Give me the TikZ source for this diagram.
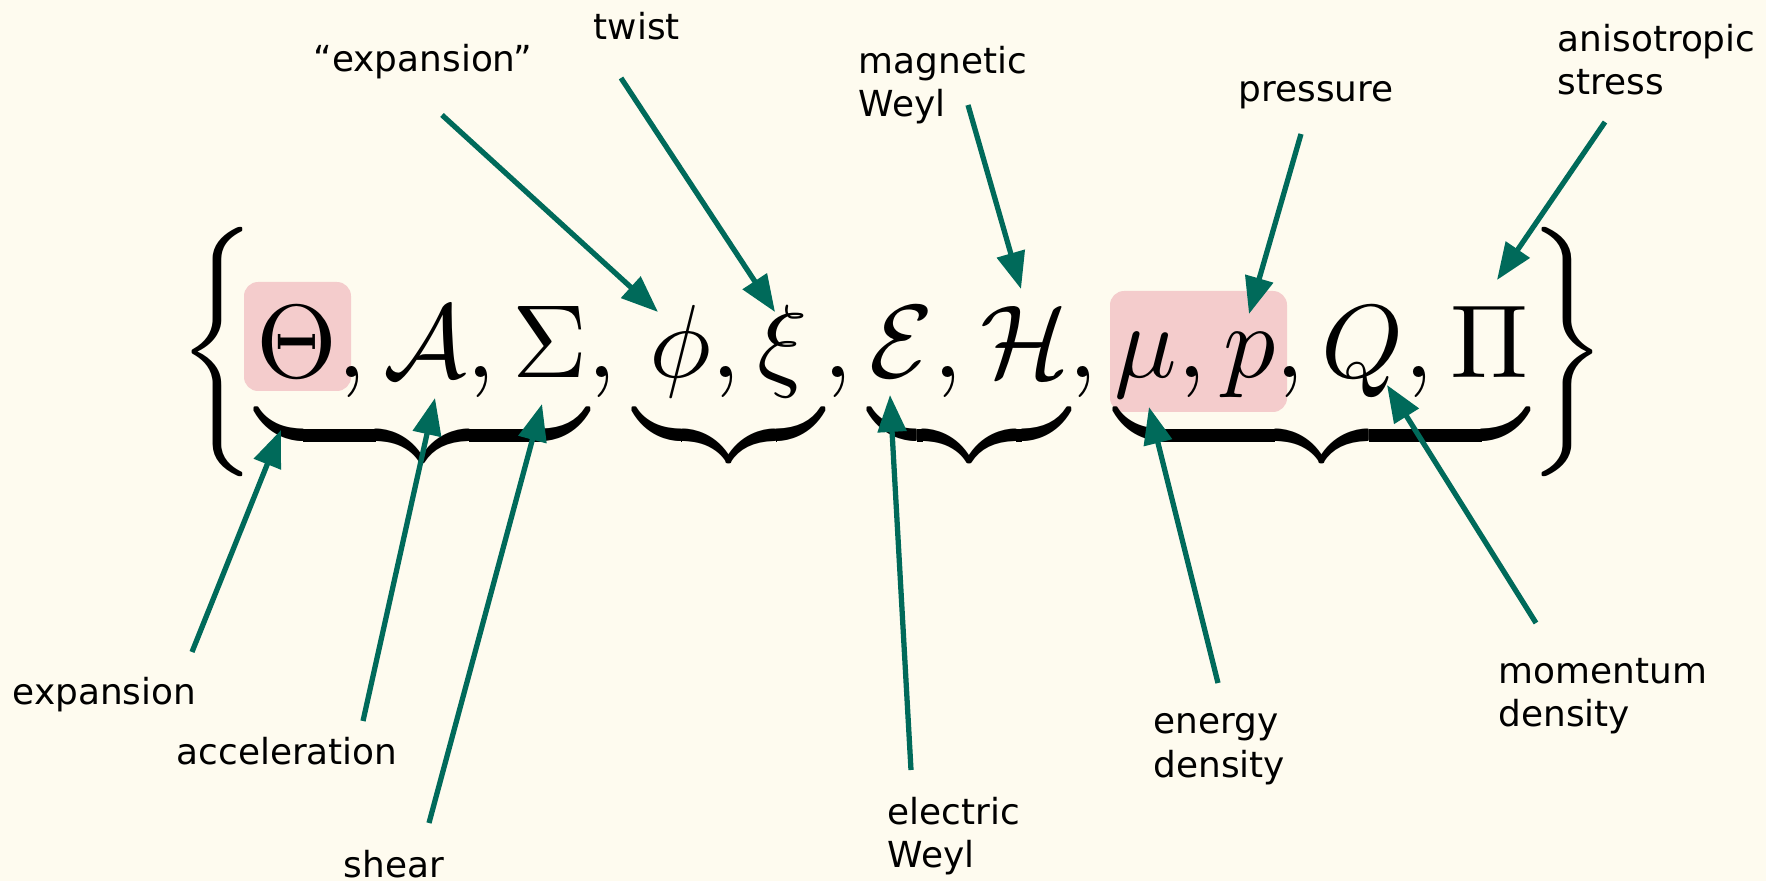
\documentclass[tikz,border=0pt]{standalone}
\usepackage{amsmath}
\usepackage[no-math]{fontspec}
\newfontfamily\lblfont{DejaVu Sans}
\usetikzlibrary{arrows.meta,positioning}
\definecolor{paper}{HTML}{FEFBEF}
\definecolor{arrowteal}{HTML}{006A5A}
\definecolor{hlpink}{HTML}{F4CCCC}

\begin{document}
\begin{tikzpicture}[
lbl/.style={font=\lblfont\fontsize{10.2}{12.5}\selectfont,inner sep=0pt,align=left,anchor=base west},
hl/.style={fill=hlpink,rounded corners=4pt,inner sep=0pt},
arrow/.style={-{Triangle[length=10.5pt,width=8pt]},line width=1.5pt,draw=arrowteal} ]

\fill[paper] (0,0) rectangle (17.66,-8.81);
\useasboundingbox (0,0) rectangle (17.66,-8.81);

\node[hl,minimum width=1.07cm,minimum height=1.09cm](hlTheta) at (2.975,-3.365) {};
\node[hl,minimum width=1.77cm,minimum height=1.21cm](hlMuP) at (11.985,-3.515) {};

\node[inner sep=0pt,anchor=base west](set) at (1.78,-3.78) {\scalebox{2.957}{%
$\displaystyle\biggl\{\underbrace{\Theta,\mathcal{A},\Sigma}_{},\underbrace{\hspace{1.5pt}\phi,\xi\hspace{1.5pt}}_{},\underbrace{\mathcal{E},\mathcal{H}}_{},\underbrace{\mu,p,Q,\Pi}_{}\biggr\}$}};

\node[lbl](expn) at (0.12,-7.05) {expansion};
\node[lbl](accel) at (1.76,-7.65) {acceleration};
\node[lbl](shear) at (3.43,-8.77) {shear};
\node[lbl](elec) at (8.87,-8.68) {electric\\Weyl};
\node[lbl](energy) at (11.53,-7.77) {energy\\density};
\node[lbl](momentum) at (14.98,-7.27) {momentum\\density};
\node[lbl](aniso) at (15.57,-0.95) {anisotropic\\stress};
\node[lbl](press) at (12.38,-1.02) {pressure};
\node[lbl](magn) at (8.58,-1.17) {magnetic\\Weyl};
\node[lbl](twist) at (5.93,-0.40) {twist};
\node[lbl](qexpn) at (3.13,-0.72) {“expansion”};

\coordinate (tExpn) at (1.92,-6.52);
\coordinate (tAccel) at (3.63,-7.21);
\coordinate (tShear) at (4.29,-8.23);
\coordinate (tElec) at (9.11,-7.70);
\coordinate (tEnergy) at (12.18,-6.83);
\coordinate (tMomentum) at (15.36,-6.23);
\coordinate (tAniso) at (16.05,-1.22);
\coordinate (tPress) at (13.01,-1.34);
\coordinate (tMagn) at (9.68,-1.05);
\coordinate (tTwist) at (6.21,-0.78);
\coordinate (tQexpn) at (4.42,-1.15);

\coordinate (pTheta) at (2.81,-4.30);
\coordinate (pA) at (4.35,-3.98);
\coordinate (pSigma) at (5.42,-4.04);
\coordinate (pPhi) at (6.58,-3.12);
\coordinate (pXi) at (7.75,-3.12);
\coordinate (pE) at (8.90,-3.95);
\coordinate (pH) at (10.21,-2.89);
\coordinate (pMu) at (11.49,-4.07);
\coordinate (pP) at (12.49,-3.14);
\coordinate (pQ) at (13.87,-3.85);
\coordinate (pPi) at (14.97,-2.80);

\draw[arrow] (tExpn) -- (pTheta);
\draw[arrow] (tAccel) -- (pA);
\draw[arrow] (tShear) -- (pSigma);
\draw[arrow] (tQexpn) -- (pPhi);
\draw[arrow] (tTwist) -- (pXi);
\draw[arrow] (tElec) -- (pE);
\draw[arrow] (tMagn) -- (pH);
\draw[arrow] (tEnergy) -- (pMu);
\draw[arrow] (tPress) -- (pP);
\draw[arrow] (tMomentum) -- (pQ);
\draw[arrow] (tAniso) -- (pPi);

\end{tikzpicture}
\end{document}
